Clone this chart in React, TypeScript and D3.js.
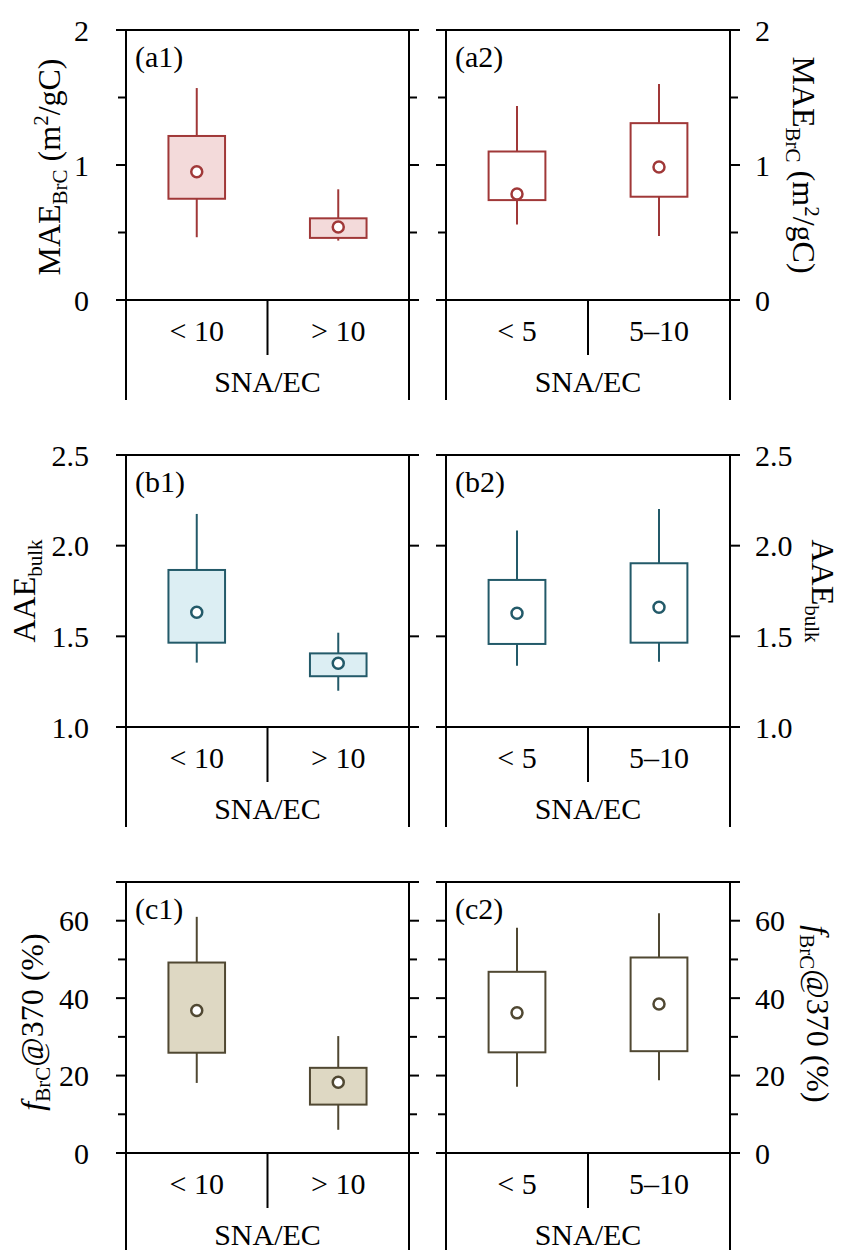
import React from 'react';
import * as d3 from 'd3';

// categories
const catsLeft = ['< 10', '> 10'];
const catsRight = ['< 5', '5–10'];

// MAE_BrC (m2/gC)
const maeLeftLo = [0.465, 0.44];
const maeLeftQ1 = [0.75, 0.46];
const maeLeftQ3 = [1.215, 0.605];
const maeLeftHi = [1.57, 0.82];
const maeLeftMean = [0.95, 0.54];
const maeRightLo = [0.56, 0.475];
const maeRightQ1 = [0.74, 0.765];
const maeRightQ3 = [1.1, 1.31];
const maeRightHi = [1.437, 1.6];
const maeRightMean = [0.785, 0.985];

// AAE_bulk
const aaeLeftLo = [1.355, 1.2];
const aaeLeftQ1 = [1.465, 1.28];
const aaeLeftQ3 = [1.866, 1.406];
const aaeLeftHi = [2.175, 1.52];
const aaeLeftMean = [1.633, 1.351];
const aaeRightLo = [1.338, 1.36];
const aaeRightQ1 = [1.458, 1.465];
const aaeRightQ3 = [1.811, 1.903];
const aaeRightHi = [2.083, 2.202];
const aaeRightMean = [1.627, 1.66];

// f_BrC@370 (%)
const fLeftLo = [18.1, 6.0];
const fLeftQ1 = [25.9, 12.5];
const fLeftQ3 = [49.2, 22.0];
const fLeftHi = [61.0, 30.2];
const fLeftMean = [36.8, 18.3];
const fRightLo = [17.1, 18.8];
const fRightQ1 = [26.0, 26.3];
const fRightQ3 = [46.8, 50.5];
const fRightHi = [58.2, 61.9];
const fRightMean = [36.2, 38.5];

// axes
const maeMajor = [0, 1, 2];
const maeMinor = [0.5, 1.5];
const maeTickLabels = ['0', '1', '2'];
const aaeMajor = [1.0, 1.5, 2.0, 2.5];
const aaeMinor: number[] = [];
const aaeTickLabels = ['1.0', '1.5', '2.0', '2.5'];
const fMajor = [0, 20, 40, 60];
const fMinor = [10, 30, 50];
const fTickLabels = ['0', '20', '40', '60'];

const FONT = '"Liberation Serif", "Times New Roman", serif';

type PanelProps = {
  x0: number; x1: number; top: number; base: number;
  domain: [number, number];
  major: number[]; minor: number[]; tickLabels: string[];
  cats: string[];
  lo: number[]; q1: number[]; q3: number[]; hi: number[]; mean: number[];
  stroke: string; fill: string;
  side: 'left' | 'right';
  tag: string;
};

const Panel = (p: PanelProps) => {
  const y = d3.scaleLinear().domain(p.domain).range([p.base, p.top]);
  const x = d3.scaleBand().domain(p.cats).range([p.x0, p.x1]);
  const bw = x.bandwidth() * 0.4;
  const mid = (p.x0 + p.x1) / 2;
  const yTop = y(p.domain[1]);
  const ext = 100;

  return (
    <g fontFamily={FONT} fill="#000">
      {/* frame */}
      <line x1={p.x0 - 10} x2={p.x1 + 10} y1={yTop} y2={yTop} stroke="#000" strokeWidth={2} />
      <line x1={p.x0 - 10} x2={p.x1 + 10} y1={p.base} y2={p.base} stroke="#000" strokeWidth={2} />
      <line x1={p.x0} x2={p.x0} y1={yTop} y2={p.base + ext} stroke="#000" strokeWidth={2} />
      <line x1={p.x1} x2={p.x1} y1={yTop} y2={p.base + ext} stroke="#000" strokeWidth={2} />
      <line x1={mid} x2={mid} y1={p.base} y2={p.base + 55} stroke="#000" strokeWidth={2} />

      {/* ticks */}
      {p.major.map(v => (
        <g key={'M' + v}>
          <line x1={p.x0 - 10} x2={p.x0} y1={y(v)} y2={y(v)} stroke="#000" strokeWidth={2} />
          <line x1={p.x1} x2={p.x1 + 10} y1={y(v)} y2={y(v)} stroke="#000" strokeWidth={2} />
        </g>
      ))}
      {p.minor.map(v => (
        <g key={'m' + v}>
          <line x1={p.x0 - 8} x2={p.x0} y1={y(v)} y2={y(v)} stroke="#000" strokeWidth={2} />
          <line x1={p.x1} x2={p.x1 + 8} y1={y(v)} y2={y(v)} stroke="#000" strokeWidth={2} />
        </g>
      ))}
      {p.major.map((v, i) => (
        <text key={'t' + v}
          x={p.side === 'left' ? p.x0 - 37 : p.x1 + 25}
          y={y(v)} dy="0.35em" fontSize={30}
          textAnchor={p.side === 'left' ? 'end' : 'start'}>
          {p.tickLabels[i]}
        </text>
      ))}

      {/* category labels */}
      {p.cats.map(c => (
        <text key={c} x={(x(c) as number) + x.bandwidth() / 2} y={p.base + 41}
          fontSize={30} textAnchor="middle">{c}</text>
      ))}
      <text x={mid} y={p.base + 92} fontSize={30} textAnchor="middle">SNA/EC</text>

      <text x={p.x0 + 9} y={yTop + 37} fontSize={30}>{p.tag}</text>

      {/* boxes */}
      {p.cats.map((c, i) => {
        const cx = (x(c) as number) + x.bandwidth() / 2;
        return (
          <g key={'b' + c} stroke={p.stroke} strokeWidth={2}>
            <line x1={cx} x2={cx} y1={y(p.hi[i])} y2={y(p.q3[i])} />
            <line x1={cx} x2={cx} y1={y(p.q1[i])} y2={y(p.lo[i])} />
            <rect x={cx - bw / 2} y={y(p.q3[i])} width={bw} height={y(p.q1[i]) - y(p.q3[i])} fill={p.fill} />
            <circle cx={cx} cy={y(p.mean[i])} r={5.5} fill="#fff" strokeWidth={2.5} />
          </g>
        );
      })}
    </g>
  );
};

const YLabel = ({ x, y, rot, children }: { x: number; y: number; rot: number; children: React.ReactNode }) => (
  <text transform={`translate(${x},${y}) rotate(${rot})`} textAnchor="middle"
    fontFamily={FONT} fontSize={32} fill="#000">{children}</text>
);

const maeLabel = (
  <>
    MAE<tspan fontSize={21} dy={7}>BrC</tspan><tspan dy={-7}> (m</tspan>
    <tspan fontSize={21} dy={-12}>2</tspan><tspan dy={12}>/gC)</tspan>
  </>
);
const aaeLabel = (
  <>AAE<tspan fontSize={21} dy={7}>bulk</tspan></>
);
const fLabel = (
  <>
    <tspan fontStyle="italic">f</tspan><tspan fontSize={21} dy={7}>BrC</tspan>
    <tspan dy={-7}>@370 (%)</tspan>
  </>
);

const RED = '#a03838', RED_F = '#f3dada';
const TEAL = '#235a69', TEAL_F = '#dceef3';
const OLIVE = '#504832', OLIVE_F = '#ded8c3';

const L = { x0: 126, x1: 409 };
const R = { x0: 446, x1: 730 };

export default function App() {
  return (
    <svg width={845} height={1250} style={{ position: 'absolute', left: 0, top: 0, background: '#fff' }}>
      <Panel {...L} top={30} base={300} domain={[0, 2]} major={maeMajor} minor={maeMinor}
        tickLabels={maeTickLabels} cats={catsLeft} lo={maeLeftLo} q1={maeLeftQ1} q3={maeLeftQ3}
        hi={maeLeftHi} mean={maeLeftMean} stroke={RED} fill={RED_F} side="left" tag="(a1)" />
      <Panel {...R} top={30} base={300} domain={[0, 2]} major={maeMajor} minor={maeMinor}
        tickLabels={maeTickLabels} cats={catsRight} lo={maeRightLo} q1={maeRightQ1} q3={maeRightQ3}
        hi={maeRightHi} mean={maeRightMean} stroke={RED} fill="#fff" side="right" tag="(a2)" />

      <Panel {...L} top={455} base={727} domain={[1, 2.5]} major={aaeMajor} minor={aaeMinor}
        tickLabels={aaeTickLabels} cats={catsLeft} lo={aaeLeftLo} q1={aaeLeftQ1} q3={aaeLeftQ3}
        hi={aaeLeftHi} mean={aaeLeftMean} stroke={TEAL} fill={TEAL_F} side="left" tag="(b1)" />
      <Panel {...R} top={455} base={727} domain={[1, 2.5]} major={aaeMajor} minor={aaeMinor}
        tickLabels={aaeTickLabels} cats={catsRight} lo={aaeRightLo} q1={aaeRightQ1} q3={aaeRightQ3}
        hi={aaeRightHi} mean={aaeRightMean} stroke={TEAL} fill="#fff" side="right" tag="(b2)" />

      <Panel {...L} top={882} base={1153} domain={[0, 70]} major={fMajor} minor={fMinor}
        tickLabels={fTickLabels} cats={catsLeft} lo={fLeftLo} q1={fLeftQ1} q3={fLeftQ3}
        hi={fLeftHi} mean={fLeftMean} stroke={OLIVE} fill={OLIVE_F} side="left" tag="(c1)" />
      <Panel {...R} top={882} base={1153} domain={[0, 70]} major={fMajor} minor={fMinor}
        tickLabels={fTickLabels} cats={catsRight} lo={fRightLo} q1={fRightQ1} q3={fRightQ3}
        hi={fRightHi} mean={fRightMean} stroke={OLIVE} fill="#fff" side="right" tag="(c2)" />

      <YLabel x={60} y={167} rot={-90}>{maeLabel}</YLabel>
      <YLabel x={793} y={165} rot={90}>{maeLabel}</YLabel>
      <YLabel x={35} y={591} rot={-90}>{aaeLabel}</YLabel>
      <YLabel x={812} y={591} rot={90}>{aaeLabel}</YLabel>
      <YLabel x={43} y={1022} rot={-90}>{fLabel}</YLabel>
      <YLabel x={807} y={1014} rot={90}>{fLabel}</YLabel>
    </svg>
  );
}
